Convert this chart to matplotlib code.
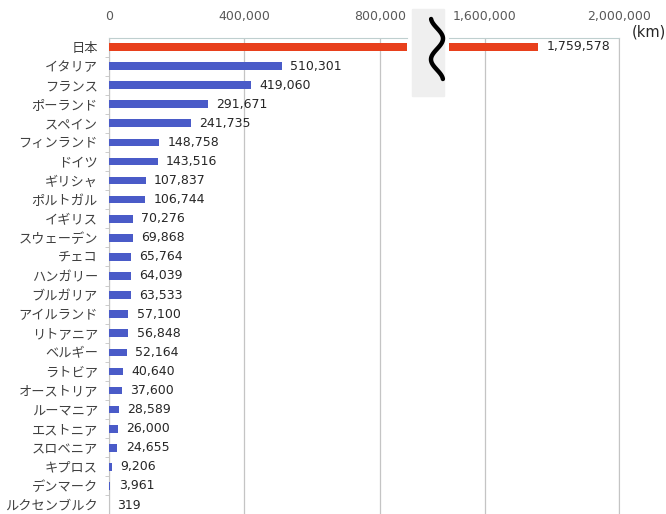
import numpy as np
import matplotlib
matplotlib.use('Agg')
from matplotlib import pyplot as plt
from matplotlib.patches import Rectangle
from matplotlib.lines import Line2D
from matplotlib.ticker import FixedLocator

plt.rcParams['font.family'] = ['DejaVu Sans', 'Noto Sans CJK JP']

# Data (km)
countries = ['日本', 'イタリア', 'フランス', 'ポーランド', 'スペイン', 'フィンランド', 'ドイツ',
             'ギリシャ', 'ポルトガル', 'イギリス', 'スウェーデン', 'チェコ', 'ハンガリー',
             'ブルガリア', 'アイルランド', 'リトアニア', 'ベルギー', 'ラトビア', 'オーストリア',
             'ルーマニア', 'エストニア', 'スロベニア', 'キプロス', 'デンマーク', 'ルクセンブルク']
values = [1759578, 510301, 419060, 291671, 241735, 148758, 143516,
          107837, 106744, 70276, 69868, 65764, 64039,
          63533, 57100, 56848, 52164, 40640, 37600,
          28589, 26000, 24655, 9206, 3961, 319]
left_ticks = [0, 400000, 800000]
right_ticks = [1600000, 2000000]

W, H = 666, 514
fig = plt.figure(figsize=(W / 100, H / 100), dpi=100)

def px(x0, y0, x1, y1):
    # pixel box (from top-left) -> figure rect
    return [x0 / W, 1 - y1 / H, (x1 - x0) / W, (y1 - y0) / H]

ax1 = fig.add_axes(px(109, 38, 407, 514))
ax2 = fig.add_axes(px(449, 38, 619, 514))

n = len(countries)
y = np.arange(n)
colors = ['#E8401C'] + ['#4A5BC8'] * (n - 1)
left_max = 880000
grid_c = '#C4C4C4'

for ax in (ax1, ax2):
    ax.barh(y, values, height=0.4, color=colors, zorder=3)
    ax.set_ylim(n - 1 + 0.47, -0.47)
    ax.xaxis.tick_top()
    ax.tick_params(axis='x', length=0, pad=11, labelsize=9, labelcolor='#595959')
    ax.grid(axis='x', color=grid_c, linewidth=0.9, zorder=0)
    for s in ax.spines.values():
        s.set_color(grid_c)
    ax.spines['bottom'].set_visible(False)
    ax.spines['top'].set_color('#BFCFCF')
    ax.xaxis.set_major_formatter(matplotlib.ticker.FuncFormatter(lambda v, p: f'{int(v):,}'))

ax1.set_xlim(0, left_max)
ax1.set_xticks(left_ticks)
ax1.spines['right'].set_visible(False)
ax1.set_yticks(y)
ax1.set_yticklabels(countries, family=['Noto Sans CJK JP', 'DejaVu Sans'], fontsize=9.5, color='#404040')
ax1.tick_params(axis='y', length=0, pad=8)
ax1.yaxis.set_minor_locator(FixedLocator(np.arange(n - 1) + 0.5))
ax1.tick_params(axis='y', which='minor', length=3, color=grid_c)

ax2.set_xlim(1492500, 2000000)
ax2.set_xticks(right_ticks)
ax2.spines['left'].set_visible(False)
ax2.set_yticks([])

for i, v in enumerate(values):
    ax = ax2 if v > left_max else ax1
    ax.annotate(f'{v:,}', (v, i), xytext=(6, 0), textcoords='offset points',
                va='center', ha='left', fontsize=9, color='#262626')

# break marker
fig.patches.append(Rectangle((412 / W, 1 - 96 / H), 32 / W, 87 / H,
                             transform=fig.transFigure, color='#EFEFEF', zorder=0))
t = np.linspace(-0.22, 1.22, 80)
sx = 437 + 6 * np.sin(2 * np.pi * t)
sy = 19 + (t + 0.22) / 1.44 * 60
fig.lines.append(Line2D(sx / W, 1 - sy / H, transform=fig.transFigure,
                        color='black', linewidth=3.2, solid_capstyle='round'))

fig.text(632 / W, 1 - 32 / H, '(km)', fontsize=10.5, color='#262626', va='center', ha='left')

fig.savefig('out.png', dpi=100)
